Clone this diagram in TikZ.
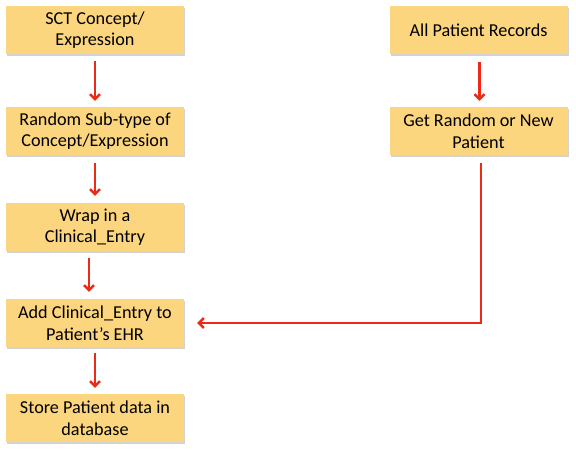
\documentclass[tikz,border=0pt]{standalone}
\usepackage{fontspec}
\setmainfont{Carlito}
\usepackage{tikz}
\usetikzlibrary{arrows.meta,shadows}

\definecolor{boxfill}{RGB}{252,213,127}
\definecolor{arrowred}{RGB}{238,42,22}

\begin{document}
\begin{tikzpicture}
      [   x=1pt,y=-1pt,
          stepbox/.style={fill=boxfill,minimum width=178pt,minimum height=48pt,
                          align=center,inner sep=2pt,
                          font=\fontsize{18.2}{21.5}\selectfont,
                          drop shadow={opacity=0.35,shadow xshift=1pt,shadow yshift=-1.5pt}},
          flow/.style={draw=arrowred,line width=2.4pt,
                       -{Straight Barb[length=5pt,width=10pt,line width=2.4pt]}},
      ]
          \useasboundingbox (0,0) rectangle (576,451);
          % left column
          \node[stepbox] (concept) at (95,30) {SCT Concept/\\Expression};
          \node[stepbox] (subtype) at (95,131) {Random Sub-type of\\Concept/Expression};
          \node[stepbox] (wrap) at (95,227) {Wrap in a\\Clinical\_Entry};
          \node[stepbox] (add) at (95,323) {Add Clinical\_Entry to\\Patient’s EHR};
          \node[stepbox] (store) at (95,418) {Store Patient data in\\database};
          % right column
          \node[stepbox] (records) at (478.5,30) {All Patient Records};
          \node[stepbox] (patient) at (478.5,131) {Get Random or New\\Patient};
          \draw[flow] ([yshift=-7pt]concept.south) -- ([yshift=6pt]subtype.north);
          \draw[flow] ([yshift=-8pt]subtype.south) -- ([yshift=7pt]wrap.north);
          \draw[flow] ([xshift=-6pt,yshift=-7pt]wrap.south) -- ([xshift=-6pt,yshift=7pt]add.north);
          \draw[flow] ([yshift=-6pt]add.south) -- ([yshift=6pt]store.north);
          \draw[flow] ([xshift=1pt,yshift=-8pt]records.south) -- ([xshift=1pt,yshift=6pt]patient.north);
          \draw[flow,line join=miter] ([xshift=2.5pt,yshift=-8pt]patient.south) |- ([xshift=13pt]add.east);
    \end{tikzpicture}
\end{document}
